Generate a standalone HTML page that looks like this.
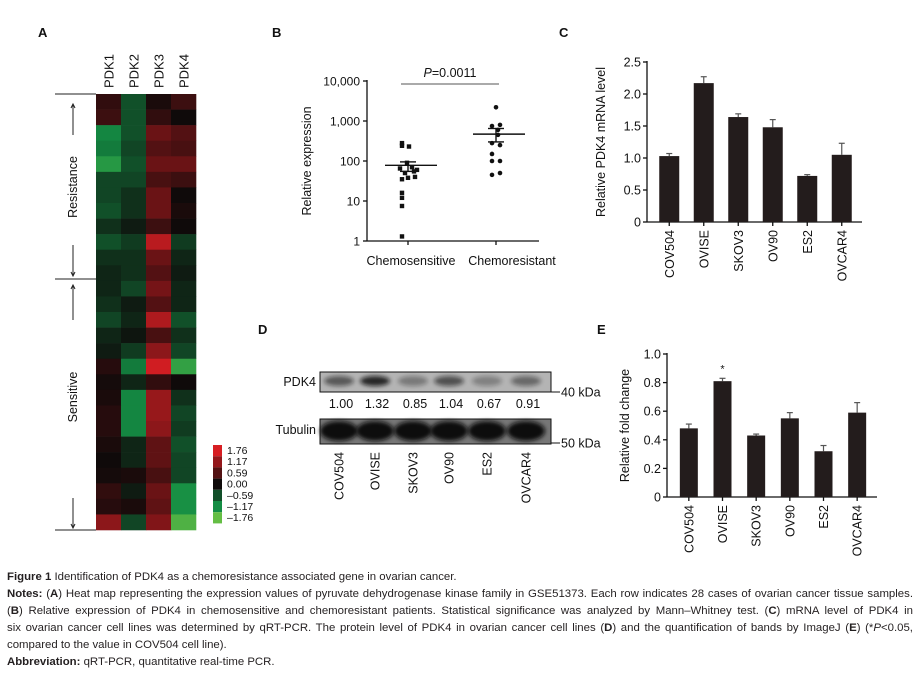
<!DOCTYPE html>
<html><head><meta charset="utf-8">
<style>
body{margin:0;background:#fff;width:920px;height:678px;overflow:hidden;position:relative;font-family:"Liberation Sans",sans-serif}
svg{position:absolute;left:0;top:0}
svg text{font-family:"Liberation Sans",Arial,sans-serif}
.cap{position:absolute;left:7px;width:906px;font-size:11.4px;color:#231f20;line-height:17px;font-family:"Liberation Sans",sans-serif;white-space:nowrap}
.j{text-align:justify;text-align-last:justify;white-space:normal}
</style></head><body>
<svg id="fig" width="920" height="565">
<defs><filter id="blur" x="-20%" y="-50%" width="140%" height="200%"><feGaussianBlur stdDeviation="2.2"/></filter></defs>
</svg>
<div class="cap" style="top:569px"><b>Figure 1</b> Identification of PDK4 as a chemoresistance associated gene in ovarian cancer.</div>
<div class="cap j" style="top:586px"><b>Notes:</b> (<b>A</b>) Heat map representing the expression values of pyruvate dehydrogenase kinase family in GSE51373. Each row indicates 28 cases of ovarian cancer tissue samples.</div>
<div class="cap j" style="top:603px">(<b>B</b>) Relative expression of PDK4 in chemosensitive and chemoresistant patients. Statistical significance was analyzed by Mann–Whitney test. (<b>C</b>) mRNA level of PDK4 in</div>
<div class="cap j" style="top:620px">six ovarian cancer cell lines was determined by qRT-PCR. The protein level of PDK4 in ovarian cancer cell lines (<b>D</b>) and the quantification of bands by ImageJ (<b>E</b>) (*<i>P</i>&lt;0.05,</div>
<div class="cap" style="top:637px">compared to the value in COV504 cell line).</div>
<div class="cap" style="top:654px"><b>Abbreviation:</b> qRT-PCR, quantitative real-time PCR.</div>
<script>
// Heatmap data
const hmGenes = ["PDK1","PDK2","PDK3","PDK4"];
const hmValues = [
[0.3,-0.6,0.1,0.4],[0.4,-0.6,0.3,0],[-1.1,-0.6,0.8,0.6],[-1.0,-0.5,0.6,0.5],
[-1.3,-0.6,0.8,0.8],[-0.5,-0.5,0.5,0.4],[-0.5,-0.3,0.8,0],[-0.6,-0.3,0.8,0.1],
[-0.3,-0.1,0.4,0],[-0.6,-0.4,1.5,-0.4],[-0.3,-0.3,0.8,-0.2],[-0.2,-0.3,0.6,-0.1],
[-0.2,-0.5,0.9,-0.2],[-0.3,-0.1,0.6,-0.2],[-0.5,-0.2,1.4,-0.6],[-0.2,-0.05,0.5,-0.3],
[-0.1,-0.4,1.1,-0.5],[0.2,-1.0,1.7,-1.4],[0.05,-0.2,0.3,0],[0.1,-1.1,1.2,-0.3],
[0.2,-1.1,1.2,-0.5],[0.2,-1.1,1.1,-0.4],[0.1,-0.2,0.7,-0.6],[0,-0.2,0.7,-0.5],
[0.05,0.1,0.5,-0.5],[0.3,-0.1,0.8,-1.2],[0.2,0.1,0.7,-1.2],[1.1,-0.5,1.0,-1.6]];
const legendTicks = ["1.76","1.17","0.59","0.00","\u20130.59","\u20131.17","\u20131.76"];
const legendValues = [1.76,1.17,0.59,0,-0.59,-1.17,-1.76];
// Panel B data
const bGroups = ["Chemosensitive","Chemoresistant"];
const bSensitive = [280,230,240,90,70,65,60,50,55,35,38,40,16,12,7.5,1.3];
const bResistant = [2200,800,750,600,450,280,250,150,100,100,45,50];
const bMean = [78,470];
const bSemLo = [55,300];
const bSemHi = [95,650];
const bTicks = [1,10,100,1000,10000];
const bTickLabels = ["1","10","100","1,000","10,000"];
// Panel C data
const cellLines = ["COV504","OVISE","SKOV3","OV90","ES2","OVCAR4"];
const cValues = [1.03,2.17,1.64,1.48,0.72,1.05];
const cErrors = [0.04,0.10,0.05,0.12,0.02,0.18];
const cTicks = [0,0.5,1.0,1.5,2.0,2.5];
const cTickLabels = ["0","0.5","1.0","1.5","2.0","2.5"];
// Panel D data
const dQuant = ["1.00","1.32","0.85","1.04","0.67","0.91"];
const dPdk4Intensity = [0.55,0.85,0.35,0.6,0.3,0.45];
// Panel E data
const eValues = [0.48,0.81,0.43,0.55,0.32,0.59];
const eErrors = [0.03,0.02,0.01,0.04,0.04,0.07];
const eTicks = [0,0.2,0.4,0.6,0.8,1.0];
const eTickLabels = ["0","0.2","0.4","0.6","0.8","1.0"];

const svg=document.getElementById('fig');
const NS='http://www.w3.org/2000/svg';
function mk(tag,attrs,text,parent){const e=document.createElementNS(NS,tag);for(const k in attrs)e.setAttribute(k,attrs[k]);if(text!==undefined)e.textContent=text;(parent||svg).appendChild(e);return e;}

[["A",38,37],["B",272,37],["C",559,37],["D",258,334],["E",597,334]].forEach(p=>{
 const t=mk('text',{x:p[1],y:p[2],'font-size':13,'font-weight':'bold',fill:'#111'},p[0]);
 
 
});

// ---------- Heatmap ----------
function hmColor(v){
 if(v>=0){const t=Math.min(v/1.76,1);return `rgb(${Math.round(15+200*t)},${Math.round(10+20*t)},${Math.round(10+25*t)})`;}
 const t=Math.min(-v/1.17,1.5);
 if(t<=1)return `rgb(${Math.round(14+6*t)},${Math.round(16+125*t)},${Math.round(13+55*t)})`;
 const u=(t-1)/0.5;return `rgb(${Math.round(20+80*u)},${Math.round(141+49*u)},${Math.round(68)})`;
}
const hmX0=96,hmY0=94,hmCW=25,hmRH=(530-94)/hmValues.length;
const hmG=mk('g',{});


hmValues.forEach((row,r)=>row.forEach((v,c)=>{
 const rc=mk('rect',{x:hmX0+c*hmCW,y:hmY0+r*hmRH,width:hmCW+0.3,height:hmRH+0.3,fill:hmColor(v)},undefined,hmG);
 
 
}));
hmGenes.forEach((g,i)=>{
 const x=hmX0+i*hmCW+hmCW/2+5;
 const t=mk('text',{x:0,y:0,transform:`translate(${x},88) rotate(-90)`,'font-size':13,fill:'#111'},g);
 
 
});
const br=mk('g',{stroke:'#222','stroke-width':1,fill:'none'});


[[94],[279],[530]].forEach(y=>mk('line',{x1:55,y1:y[0],x2:96,y2:y[0]},undefined,br));
[[104,135,true],[245,276,false],[285,320,true],[498,528,false]].forEach(a=>{
 mk('line',{x1:73,y1:a[0],x2:73,y2:a[1]},undefined,br);
 const tipY=a[2]?a[0]:a[1],d=a[2]?4:-4;
 mk('path',{d:`M71 ${tipY+d} L73 ${tipY} L75 ${tipY+d}`},undefined,br);
});
const rt=mk('text',{transform:'translate(77,187) rotate(-90)','font-size':12.5,'text-anchor':'middle',fill:'#111'},'Resistance');

const st=mk('text',{transform:'translate(77,397) rotate(-90)','font-size':12.5,'text-anchor':'middle',fill:'#111'},'Sensitive');

const lg=mk('g',{});


legendValues.forEach((v,i)=>{
 const y=445+i*11.2;
 const r=mk('rect',{x:213,y:y,width:9,height:11.2,fill:hmColor(v)},undefined,lg);
 
 const t=mk('text',{x:227,y:y+9,'font-size':10.5,fill:'#111'},legendTicks[i],lg);
 
});

// ---------- Panel B ----------
const bx0=367,bx1=539,by0=241,decade=40;
function byS(v){return by0-Math.log10(v)*decade;}
const bCat=[408,496];
const bLabelX=[411,512];
const bAx=mk('g',{stroke:'#111','stroke-width':1.3,fill:'none'});

mk('line',{x1:bx0,y1:byS(10000)-1,x2:bx0,y2:by0},undefined,bAx);
mk('line',{x1:bx0,y1:by0,x2:bx1,y2:by0},undefined,bAx);
bTicks.forEach((v,i)=>{
 mk('line',{x1:bx0-4,y1:byS(v),x2:bx0,y2:byS(v)},undefined,bAx);
 const t=mk('text',{x:bx0-7,y:byS(v)+4.5,'font-size':12,'text-anchor':'end',fill:'#111'},bTickLabels[i]);
 
});
bGroups.forEach((g,i)=>{
 mk('line',{x1:bCat[i],y1:by0,x2:bCat[i],y2:by0+4},undefined,bAx);
 const t=mk('text',{x:bLabelX[i],y:by0+24,'font-size':12.5,'text-anchor':'middle',fill:'#111'},g);
 
});
const byl=mk('text',{transform:'translate(311,161) rotate(-90)','font-size':12.5,'text-anchor':'middle',fill:'#111'},'Relative expression');

const pl=mk('line',{x1:401,y1:84,x2:499,y2:84,stroke:'#aaa','stroke-width':2});

const pt=mk('text',{x:450,y:77,'font-size':12.5,'text-anchor':'middle',fill:'#111'});

mk('tspan',{'font-style':'italic'},'P',pt);mk('tspan',{},'=0.0011',pt);
const sOff=[-6,1,-6,-1,4,-8,9,-3,6,-6,0,7,-6,-6,-6,-6];
bSensitive.forEach((v,i)=>{
 const r=mk('rect',{x:bCat[0]+sOff[i%sOff.length]-2.2,y:byS(v)-2.2,width:4.4,height:4.4,fill:'#111'});
 
});
const rOff=[0,4,-4,2,2,-4,4,-4,-4,4,-4,4];
bResistant.forEach((v,i)=>{
 const c=mk('circle',{cx:bCat[1]+rOff[i%rOff.length],cy:byS(v),r:2.3,fill:'#111'});
 
});
[0,1].forEach(i=>{
 const g=mk('g',{stroke:'#111','stroke-width':1.4});
 
 mk('line',{x1:bCat[i]-23,y1:byS(bMean[i]),x2:bCat[i]+29,y2:byS(bMean[i])},undefined,g);
 mk('line',{x1:bCat[i],y1:byS(bSemLo[i]),x2:bCat[i],y2:byS(bSemHi[i])},undefined,g);
 mk('line',{x1:bCat[i]-8,y1:byS(bSemLo[i]),x2:bCat[i]+8,y2:byS(bSemLo[i])},undefined,g);
 mk('line',{x1:bCat[i]-8,y1:byS(bSemHi[i]),x2:bCat[i]+8,y2:byS(bSemHi[i])},undefined,g);
});

// ---------- bar charts ----------
function barChart(o){
 const ys=v=>o.y0-(v/o.max)*(o.y0-o.yTop);
 const ax=mk('g',{stroke:'#111','stroke-width':1.3,fill:'none'});
 
 mk('line',{x1:o.x0,y1:o.yTop-1,x2:o.x0,y2:o.y0},undefined,ax);
 mk('line',{x1:o.x0,y1:o.y0,x2:o.x1,y2:o.y0},undefined,ax);
 o.ticks.forEach((v,i)=>{
  mk('line',{x1:o.x0-4,y1:ys(v),x2:o.x0,y2:ys(v)},undefined,ax);
  const t=mk('text',{x:o.x0-6,y:ys(v)+4.5,'font-size':12.5,'text-anchor':'end',fill:'#111'},o.tickLabels[i]);
  
 });
 const step=(o.x1-o.x0-8)/o.cats.length;
 o.cats.forEach((c,i)=>{
  const cx=o.x0+8+step*(i+0.5)-3;
  const v=o.values[i],e=o.errors[i];
  const eb=mk('g',{stroke:'#555','stroke-width':1.2});
  
  mk('line',{x1:cx,y1:ys(v),x2:cx,y2:ys(v+e)},undefined,eb);
  mk('line',{x1:cx-3,y1:ys(v+e),x2:cx+3,y2:ys(v+e)},undefined,eb);
  const b=mk('rect',{x:cx-o.bw/2,y:ys(v),width:o.bw,height:o.y0-ys(v),fill:'#231c1c'});
  
  mk('line',{x1:cx,y1:o.y0,x2:cx,y2:o.y0+4},undefined,ax);
  const t=mk('text',{transform:`translate(${cx+4.5},${o.y0+8}) rotate(-90)`,'font-size':12.5,'text-anchor':'end',fill:'#111'},c);
  
  if(o.star&&o.star[i]){const s=mk('text',{x:cx,y:ys(v+e)-6,'font-size':11,'text-anchor':'middle',fill:'#111'},'*');
   }
 });
 const yl=mk('text',{transform:`translate(${o.ylx},${(o.y0+o.yTop)/2}) rotate(-90)`,'font-size':12.5,'text-anchor':'middle',fill:'#111'},o.ytitle);
 
}
barChart({name:'panel-c',x0:647,x1:862,y0:222,yTop:62,max:2.5,ticks:cTicks,tickLabels:cTickLabels,cats:cellLines,values:cValues,errors:cErrors,bw:20,ylx:605,ytitle:'Relative PDK4 mRNA level'});
barChart({name:'panel-e',x0:667,x1:877,y0:497,yTop:354,max:1.0,ticks:eTicks,tickLabels:eTickLabels,cats:cellLines,values:eValues,errors:eErrors,bw:18,ylx:629,ytitle:'Relative fold change',star:[0,1,0,0,0,0]});

// ---------- Panel D blot ----------
const lanes=[339,375,413,449,487,526];
const pdkBox=mk('g',{});

mk('rect',{x:320,y:372,width:231,height:20,fill:'#b4b4b4',stroke:'#111','stroke-width':1},undefined,pdkBox);
dPdk4Intensity.forEach((a,i)=>{
 const e=mk('ellipse',{cx:lanes[i],cy:381,rx:15,ry:5,fill:'#111',opacity:a,filter:'url(#blur)'},undefined,pdkBox);
 
});
const tubBox=mk('g',{});

mk('rect',{x:320,y:419,width:231,height:25,fill:'#777',stroke:'#111','stroke-width':1},undefined,tubBox);
lanes.forEach(x=>{const e=mk('ellipse',{cx:x,cy:431,rx:19,ry:10,fill:'#0a0a0a',filter:'url(#blur)'},undefined,tubBox);
 });
mk('rect',{x:320,y:419,width:231,height:25,fill:'none',stroke:'#111','stroke-width':1},undefined,tubBox);
dQuant.forEach((q,i)=>{const t=mk('text',{x:lanes[i]+2,y:408,'font-size':12.5,'text-anchor':'middle',fill:'#111'},q);
 });
[['PDK4',386],['Tubulin',434]].forEach(p=>{const t=mk('text',{x:316,y:p[1],'font-size':12.5,'text-anchor':'end',fill:'#111'},p[0]);
 });
[['40 kDa',392],['50 kDa',443]].forEach(p=>{
 mk('line',{x1:551,y1:p[1],x2:560,y2:p[1],stroke:'#111'});
 const t=mk('text',{x:561,y:p[1]+4.5,'font-size':12.5,fill:'#111'},p[0]);
 });
cellLines.forEach((c,i)=>{const t=mk('text',{transform:`translate(${lanes[i]+4.5},452) rotate(-90)`,'font-size':12.5,'text-anchor':'end',fill:'#111'},c);
 });
</script>
</body></html>
